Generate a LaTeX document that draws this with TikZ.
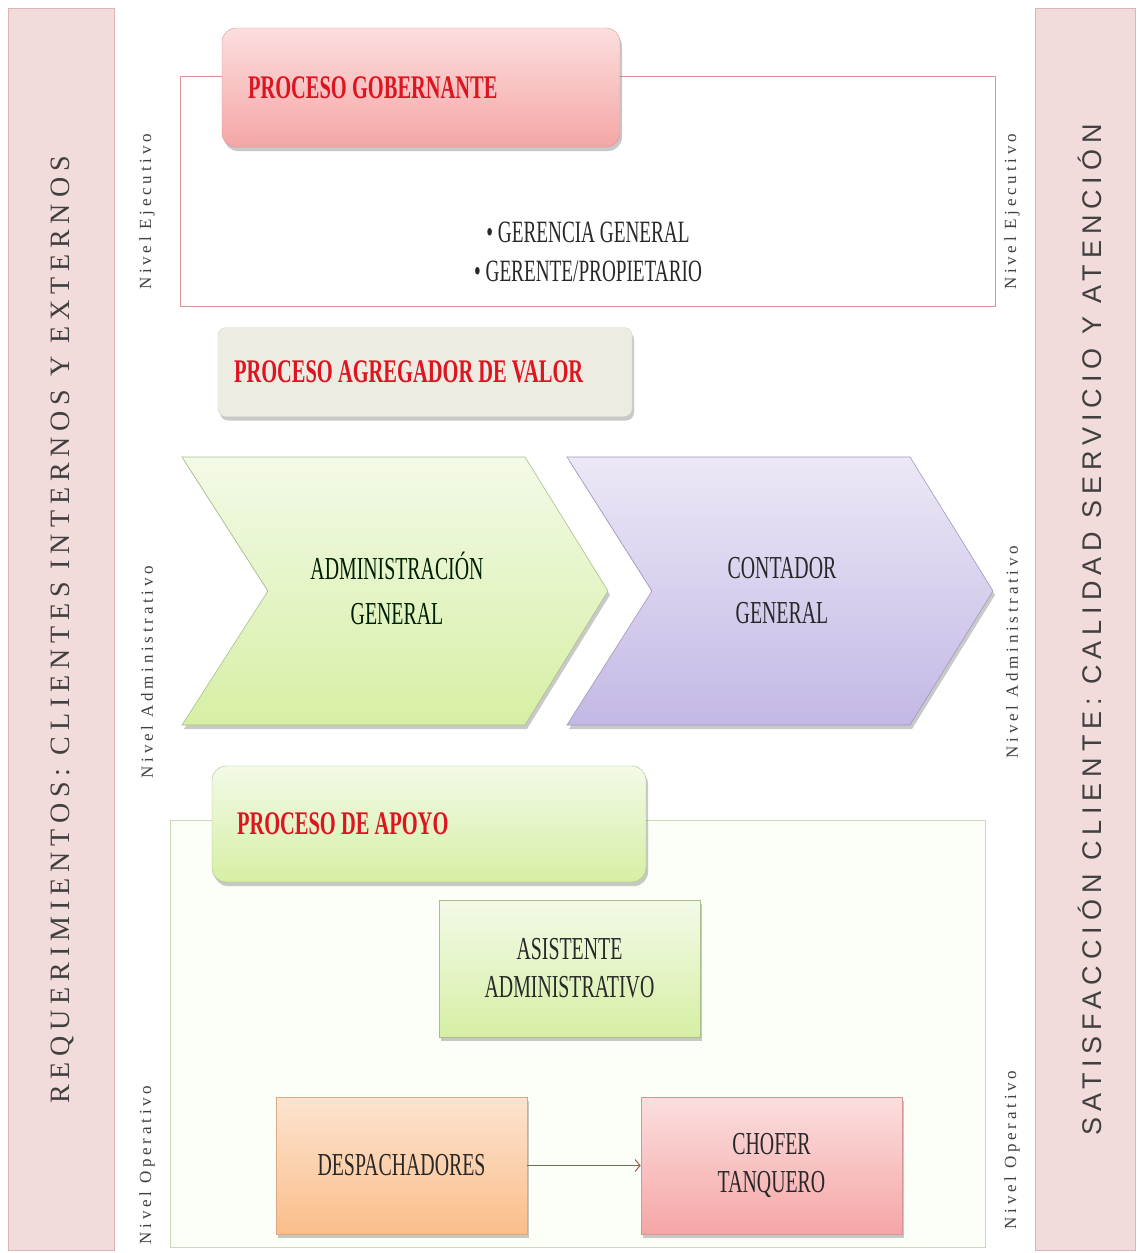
\documentclass[tikz,border=0pt]{standalone}
\usepackage{fontspec}
\setmainfont{Liberation Serif}
\newfontfamily\condfont[FakeStretch=0.62]{Liberation Serif}
\newfontfamily\nivelfont[LetterSpace=22]{Liberation Serif}
\newfontfamily\reqfont[LetterSpace=21]{Liberation Serif}
\newfontfamily\satfont[LetterSpace=22]{Liberation Sans}
\usetikzlibrary{arrows.meta, shadows}

\definecolor{barfill}{RGB}{242,220,219}
\definecolor{barline}{RGB}{224,180,180}
\definecolor{bartxt}{RGB}{64,64,64}
\definecolor{protitle}{RGB}{222,20,32}
\definecolor{boxtxt}{RGB}{40,40,40}
\definecolor{pinktop}{RGB}{252,222,222}
\definecolor{pinkbot}{RGB}{245,166,166}
\definecolor{pinkline}{RGB}{215,150,150}
\definecolor{greentop}{RGB}{243,250,232}
\definecolor{greenbot}{RGB}{214,239,164}
\definecolor{greenline}{RGB}{170,190,140}
\definecolor{violettop}{RGB}{236,232,246}
\definecolor{violetbot}{RGB}{196,184,229}
\definecolor{violetline}{RGB}{160,150,190}
\definecolor{orangetop}{RGB}{253,228,208}
\definecolor{orangebot}{RGB}{250,190,138}
\definecolor{orangeline}{RGB}{220,170,130}
\definecolor{tanfill}{RGB}{236,236,226}
\definecolor{tanline}{RGB}{215,213,200}
\definecolor{linkred}{RGB}{170,80,80}

\begin{document}
\begin{tikzpicture}[x=1pt, y=-1pt,
  bar/.style={draw=barline, fill=barfill, line width=0.8pt, inner sep=0pt},
  bartext/.style={rotate=90, text=bartxt},
  nivel/.style={rotate=90, text=black!75, font=\nivelfont\fontsize{17}{20}\selectfont},
  frame/.style={inner sep=0pt, line width=0.8pt},
  softshadow/.style={drop shadow={shadow xshift=2pt, shadow yshift=-4pt, opacity=0.3, fill=black!70}},
  header/.style={rounded corners=14pt, inner ysep=0pt, align=flush left, softshadow,
    text=protitle, font=\condfont\bfseries\fontsize{33}{36}\selectfont},
  box/.style={inner sep=0pt, align=flush center, softshadow, line width=0.6pt,
    text=boxtxt, font=\condfont\fontsize{32}{38}\selectfont},
  chev/.style={line width=0.6pt, softshadow},
  link/.style={draw=linkred, line width=1pt, -{Straight Barb[length=5pt, width=12pt]}}
]
  \useasboundingbox (0,0) rectangle (1138,1253);

  % Side bars
  \node[bar, minimum width=106pt, minimum height=1242pt] (reqbar) at (61,629) {};
  \node[bar, minimum width=100pt, minimum height=1242pt] (satbar) at (1085,629) {};
  \node[bartext, font=\reqfont\fontsize{28}{32}\selectfont] (req) at (62,630)
    {REQUERIMIENTOS: CLIENTES INTERNOS Y EXTERNOS};
  \node[bartext, font=\satfont\fontsize{27}{32}\selectfont] (sat) at (1090,630)
    {SATISFACCIÓN CLIENTE: CALIDAD SERVICIO Y ATENCIÓN};

  % Level labels
  \node[nivel] (ejecL) at (147,212) {Nivel Ejecutivo};
  \node[nivel] (ejecR) at (1012,212) {Nivel Ejecutivo};
  \node[nivel] (adminL) at (147,672) {Nivel Administrativo};
  \node[nivel] (adminR) at (1012,652) {Nivel Administrativo};
  \node[nivel] (operL) at (147,1165) {Nivel Operativo};
  \node[nivel] (operR) at (1012,1150) {Nivel Operativo};

  % Governing process
  \node[frame, draw=pinkline, fill=white, minimum width=815pt, minimum height=230pt] (gobframe) at (587.5,191) {};
  \node[header, draw=pinkline, top color=pinktop, bottom color=pinkbot,
    inner xsep=26pt, text width=346pt, minimum height=119pt] (gob) at (421,87.5) {PROCESO GOBERNANTE};
  \node[align=flush center, text=boxtxt, font=\condfont\fontsize{31}{39}\selectfont] (gerencia) at (588,252)
    {• GERENCIA GENERAL\\• GERENTE/PROPIETARIO};

  % Value process
  \node[header, rounded corners=8pt, draw=tanline, fill=tanfill, drop shadow={opacity=0},
    inner xsep=16pt, text width=382pt, minimum height=89pt] (valor) at (425,372) {PROCESO AGREGADOR DE VALOR};

  \path[chev, draw=greenline, top color=greentop, bottom color=greenbot]
    (182,457) -- (525,457) -- (608,591) -- (525,725) -- (182,725) -- (268,591) -- cycle;
  \path[chev, draw=violetline, top color=violettop, bottom color=violetbot]
    (567,457) -- (910,457) -- (993,591) -- (910,725) -- (567,725) -- (652,591) -- cycle;
  \node[align=flush center, text=black!80!green!60!black, font=\condfont\fontsize{32}{45}\selectfont] (admin) at (397,588)
    {ADMINISTRACIÓN\\GENERAL};
  \node[align=flush center, text=boxtxt, font=\condfont\fontsize{32}{45}\selectfont] (contador) at (782,591)
    {CONTADOR\\GENERAL};

  % Support process
  \node[frame, draw=greenline!60, fill=green!50!yellow!3, minimum width=815pt, minimum height=427pt] (apoyoframe) at (577.5,1033.5) {};
  \node[header, draw=greenline, top color=greentop, bottom color=greenbot,
    inner xsep=25pt, text width=384pt, minimum height=116pt] (apoyo) at (429,824) {PROCESO DE APOYO};
  \node[box, draw=greenline, top color=greentop, bottom color=greenbot,
    minimum width=261pt, minimum height=137pt] (asistente) at (569.5,968.5) {ASISTENTE\\ADMINISTRATIVO};
  \node[box, draw=orangeline, top color=orangetop, bottom color=orangebot,
    minimum width=251pt, minimum height=137pt] (desp) at (401.5,1165.5) {DESPACHADORES};
  \node[box, draw=pinkline, top color=pinktop, bottom color=pinkbot,
    minimum width=261pt, minimum height=137pt] (chofer) at (771.5,1165.5) {CHOFER\\TANQUERO};

  \draw[link] (desp) -- (chofer);
\end{tikzpicture}
\end{document}
